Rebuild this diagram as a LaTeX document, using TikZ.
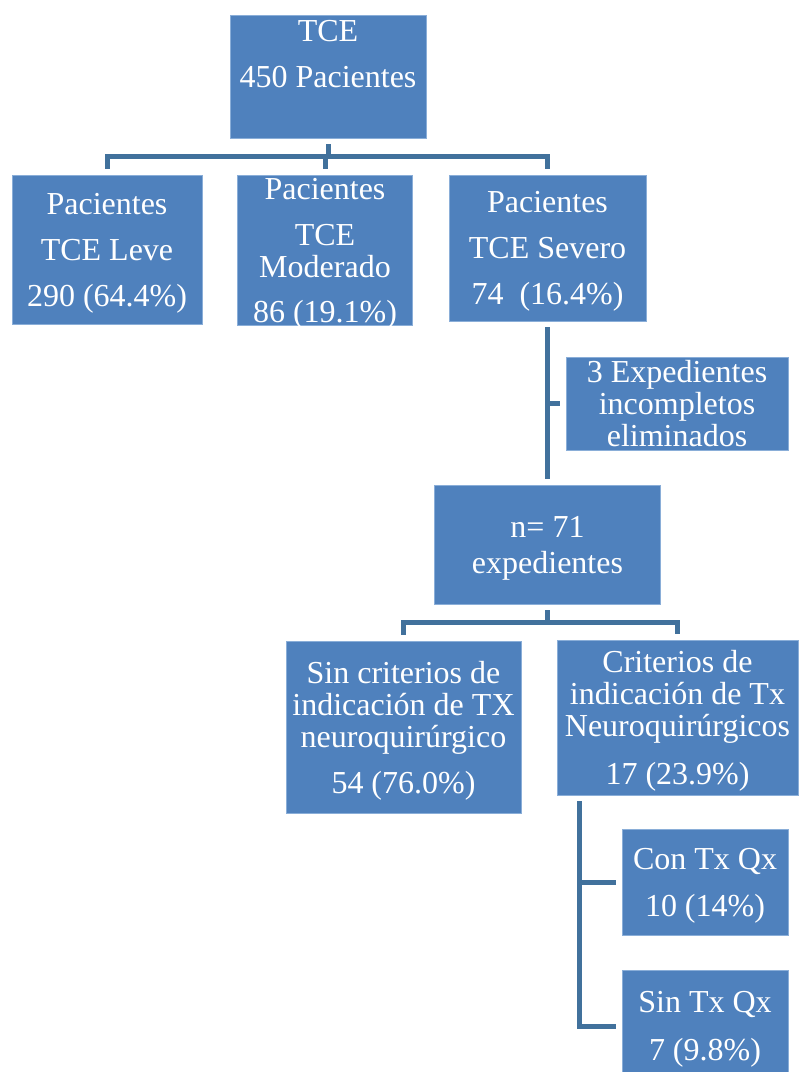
\documentclass[tikz,border=0pt]{standalone}
\usepackage{fontspec}
\setmainfont{Liberation Serif}
\definecolor{boxblue}{HTML}{4F81BD}
\definecolor{boxedge}{HTML}{8AAED8}
\definecolor{linkblue}{HTML}{41719C}
\begin{document}
\begin{tikzpicture}[
    x=1pt, y=-1pt,
    box/.style={fill=boxblue, draw=boxedge, line width=0.8pt, text=white, align=center, inner sep=0pt,
      font=\fontsize{32}{32}\selectfont, text depth=-3pt},
    conn/.style={draw=linkblue, line width=5pt}
  ]
  \useasboundingbox (0,0) rectangle (799,1072);
  \node[box, text depth=45pt, minimum width=196pt, minimum height=123pt] (tce) at (328,76.5) {TCE\\[14pt]450 Pacientes};
  \node[box, minimum width=190pt, minimum height=149pt] (leve) at (107,249.5) {Pacientes\\[14pt]TCE Leve\\[14pt]290 (64.4\%)};
  \node[box, minimum width=175pt, minimum height=150pt] (mod) at (325,250) {Pacientes\\[14pt]TCE\\Moderado\\[13pt]86 (19.1\%)};
  \node[box, minimum width=197pt, minimum height=146pt] (sev) at (547.5,248) {Pacientes\\[14pt]TCE Severo\\[14pt]74~ (16.4\%)};
  \node[box, minimum width=222pt, minimum height=93pt] (exp) at (677,403.5) {3 Expedientes\\incompletos\\eliminados};
  \node[box, minimum width=226pt, minimum height=119pt] (n71) at (547.5,544.5) {n= 71\\[4pt]expedientes};
  \node[box, minimum width=235pt, minimum height=172pt] (sincrit) at (403.5,727) {Sin criterios de\\indicación de TX\\neuroquirúrgico\\[14pt]54 (76.0\%)};
  \node[box, minimum width=241pt, minimum height=155pt] (crit) at (677.5,717.5) {Criterios de\\indicación de Tx\\Neuroquirúrgicos\\[16pt]17 (23.9\%)};
  \node[box, minimum width=166pt, minimum height=106pt] (contx) at (705,882) {Con Tx Qx\\[15pt]10 (14\%)};
  \node[box, minimum width=166pt, minimum height=112pt] (sintx) at (705,1026) {Sin Tx Qx\\[16pt]7 (9.8\%)};
  \foreach \c in {leve,mod,sev}
    \draw[conn] ([yshift=-6pt]tce.south) -- ++(0,12) -| ([yshift=6pt]\c.north);
  \draw[conn] ([yshift=-6pt]sev.south) -- ([yshift=6pt]n71.north);
  \draw[conn] ([xshift=-6pt]exp.west) -- (exp.west -| sev.south);
  \foreach \c in {sincrit,crit}
    \draw[conn] ([yshift=-6pt]n71.south) -- ++(0,12) -| ([yshift=6pt]\c.north);
  \coordinate (trunk) at ([xshift=23pt,yshift=-6pt]crit.south west);
  \foreach \c in {contx,sintx}
    \draw[conn] (trunk) |- ([xshift=-6pt]\c.west);
\end{tikzpicture}
\end{document}
